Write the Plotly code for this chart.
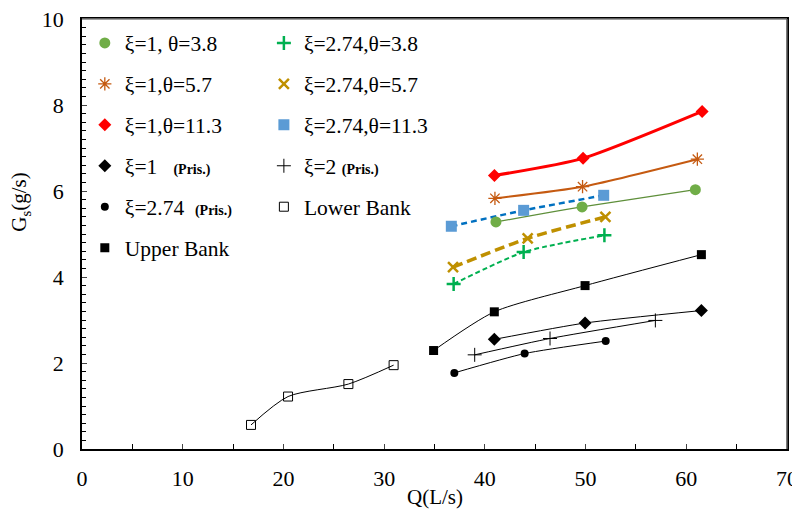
import plotly.graph_objects as go

# ---- data ----
q_1_38 = [41.1, 49.65, 60.9]
g_1_38 = [5.28, 5.63, 6.03]

q_274_38 = [36.9, 43.85, 51.87]
g_274_38 = [3.84, 4.58, 4.97]

q_1_57 = [41.0, 49.7, 61.1]
g_1_57 = [5.83, 6.10, 6.74]

q_274_57 = [36.84, 44.25, 51.97]
g_274_57 = [4.23, 4.90, 5.40]

q_1_113 = [40.95, 49.75, 61.57]
g_1_113 = [6.36, 6.76, 7.85]

q_274_113 = [36.67, 43.85, 51.8]
g_274_113 = [5.18, 5.55, 5.90]

q_1_pris = [40.94, 49.95, 61.5]
g_1_pris = [2.55, 2.93, 3.22]

q_2_pris = [38.99, 46.47, 56.93]
g_2_pris = [2.19, 2.57, 2.99]

q_274_pris = [36.97, 43.95, 52.0]
g_274_pris = [1.77, 2.22, 2.51]

q_lower = [16.78, 20.46, 26.45, 30.94]
g_lower = [0.56, 1.22, 1.51, 1.95]

q_upper = [34.91, 40.94, 49.95, 61.5]
g_upper = [2.29, 3.19, 3.80, 4.52]

x_ticks = [0, 10, 20, 30, 40, 50, 60, 70]
y_ticks = [0, 2, 4, 6, 8, 10]

FONT = "Liberation Serif, Times New Roman, serif"
PRIS = '<span style="font-size:14px"><b>(Pris.)</b></span>'

series = [
    # name, x, y, legend, marker dict, line dict, smoothing
    ("ξ=1, θ=3.8", q_1_38, g_1_38, "legend",
     dict(symbol="circle", size=11, color="#70AD47"),
     dict(color="#5E8F3A", width=1.2), 0.6),
    ("ξ=1,θ=5.7", q_1_57, g_1_57, "legend",
     dict(symbol="asterisk-open", size=11, color="#C55A11", line=dict(color="#C55A11", width=1.3)),
     dict(color="#C55A11", width=2), 0.6),
    ("ξ=1,θ=11.3", q_1_113, g_1_113, "legend",
     dict(symbol="diamond", size=10, color="#FF0000"),
     dict(color="#FF0000", width=3), 0.6),
    ("ξ=1   " + PRIS, q_1_pris, g_1_pris, "legend",
     dict(symbol="diamond", size=10, color="#000000"),
     dict(color="#000000", width=1), 0.6),
    ("ξ=2.74  " + PRIS, q_274_pris, g_274_pris, "legend",
     dict(symbol="circle", size=8, color="#000000"),
     dict(color="#000000", width=1), 0.6),
    ("Upper Bank", q_upper, g_upper, "legend",
     dict(symbol="square", size=9, color="#000000"),
     dict(color="#000000", width=1), 0.7),
    ("ξ=2.74,θ=3.8", q_274_38, g_274_38, "legend2",
     dict(symbol="cross-thin-open", size=10, color="#00B050", line=dict(color="#00B050", width=2.5)),
     dict(color="#00B050", width=2, dash="5px,3px"), 0.6),
    ("ξ=2.74,θ=5.7", q_274_57, g_274_57, "legend2",
     dict(symbol="x-thin-open", size=10, color="#BF9000", line=dict(color="#BF9000", width=2.5)),
     dict(color="#BF9000", width=3.5, dash="10px,5px"), 0.6),
    ("ξ=2.74,θ=11.3", q_274_113, g_274_113, "legend2",
     dict(symbol="square", size=11, color="#5B9BD5"),
     dict(color="#0070C0", width=2.5, dash="6px,4px"), 0.6),
    ("ξ=2 " + PRIS, q_2_pris, g_2_pris, "legend2",
     dict(symbol="cross-thin-open", size=10, color="#000000", line=dict(color="#000000", width=1)),
     dict(color="#000000", width=1), 0.6),
    ("Lower Bank", q_lower, g_lower, "legend2",
     dict(symbol="square-open", size=9, color="#000000", line=dict(color="#000000", width=1)),
     dict(color="#000000", width=1), 0.75),
]

fig = go.Figure()

# trend lines (no legend)
for i, (name, xs, ys, lg, mk, ln, sm) in enumerate(series):
    fig.add_trace(go.Scatter(x=xs, y=ys, mode="lines", line=dict(shape="spline", smoothing=sm, **ln),
                             showlegend=False, hoverinfo="skip"))

# markers (in legends)
for i, (name, xs, ys, lg, mk, ln, sm) in enumerate(series):
    fig.add_trace(go.Scatter(x=xs, y=ys, mode="markers", marker=mk, name=name,
                             legend=lg, legendgroup="g%d" % i, showlegend=True))

# the page body adds an 8px offset, so the figure is 8px smaller on each axis
fig.update_layout(
    width=792, height=505,
    margin=dict(l=74, r=13, t=11, b=64, autoexpand=False),
    paper_bgcolor="white", plot_bgcolor="rgba(0,0,0,0)",
    font=dict(family=FONT, size=21, color="#000000"),
    legend=dict(x=0.004, y=0.992, xanchor="left", yanchor="top",
                bgcolor="rgba(0,0,0,0)", font=dict(family=FONT, size=21.5),
                tracegroupgap=10, traceorder="grouped"),
    legend2=dict(x=0.258, y=0.992, xanchor="left", yanchor="top",
                 bgcolor="rgba(0,0,0,0)", font=dict(family=FONT, size=21.5),
                 tracegroupgap=10, traceorder="grouped"),
    xaxis=dict(range=[0, 70], tickvals=x_ticks, ticks="inside", ticklen=5, tickwidth=1,
               showline=True, linecolor="#000000", linewidth=1.5, mirror=True,
               showgrid=False, zeroline=False,
               minor=dict(ticks="inside", dtick=5, ticklen=5, tickcolor="#000000"),
               ticklabelstandoff=9, ticklabeloverflow="allow",
               tickfont=dict(family=FONT, size=22), automargin=False),
    yaxis=dict(range=[0, 10], tickvals=y_ticks, ticks="inside", ticklen=5, tickwidth=1,
               showline=True, linecolor="#000000", linewidth=1.5, mirror=True,
               showgrid=False, zeroline=False,
               minor=dict(ticks="inside", dtick=0.2, ticklen=4, tickcolor="#000000"),
               ticklabelstandoff=12, ticklabeloverflow="allow",
               tickfont=dict(family=FONT, size=22), automargin=False),
    shapes=[
        dict(type="line", xref="paper", yref="paper", x0=0, x1=1, y0=1, y1=1,
             line=dict(color="#7F7F7F", width=1.6), layer="above"),
        dict(type="line", xref="paper", yref="paper", x0=1, x1=1, y0=0, y1=1,
             line=dict(color="#595959", width=1.6), layer="above"),
    ],
    annotations=[
        dict(text="Q(L/s)", xref="paper", yref="paper", x=0.5, y=-0.112,
             xanchor="center", yanchor="middle", showarrow=False,
             font=dict(family=FONT, size=21)),
        dict(text="G<sub>s</sub>(g/s)", xref="paper", yref="paper", x=-0.088, y=0.575,
             xanchor="center", yanchor="middle", showarrow=False, textangle=-90,
             font=dict(family=FONT, size=21)),
    ],
)

fig.write_html("out.html")
